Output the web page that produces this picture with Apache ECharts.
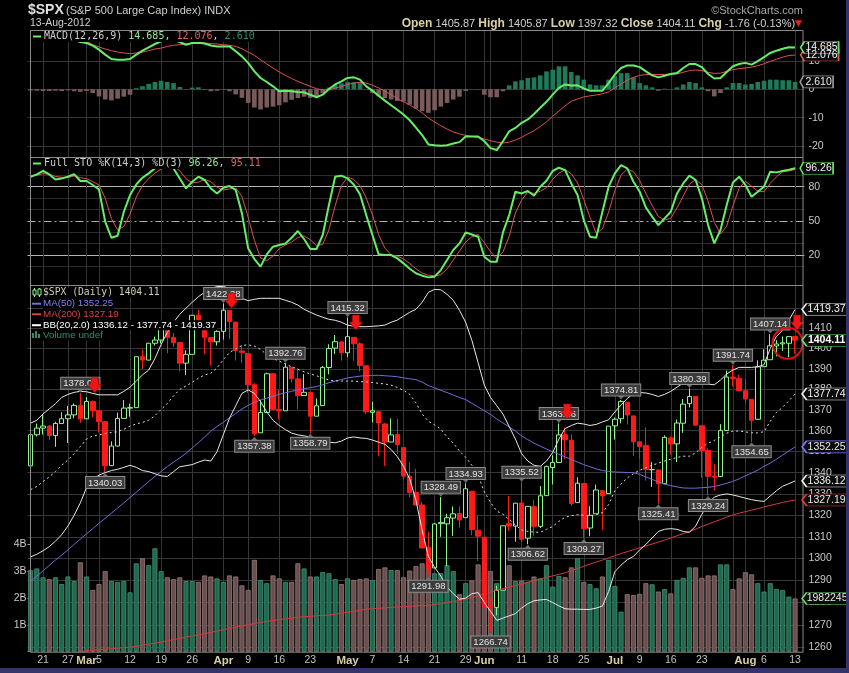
<!DOCTYPE html>
<html>
<head>
<meta charset="utf-8">
<title>$SPX</title>
<script src="https://cdn.jsdelivr.net/npm/echarts@6.0.0/dist/echarts.min.js"></script>
<style>
html,body{margin:0;padding:0;background:#000;overflow:hidden;}
#chart{width:849px;height:673px;}
</style>
</head>
<body>
<div id="chart"></div>
<script>
// ---------------- DATA ----------------
const days = ['Feb 16','Feb 17','Feb 21','Feb 22','Feb 23','Feb 24','Feb 27','Feb 28','Feb 29',
'Mar 1','Mar 2','Mar 5','Mar 6','Mar 7','Mar 8','Mar 9','Mar 12','Mar 13','Mar 14','Mar 15','Mar 16','Mar 19','Mar 20','Mar 21','Mar 22','Mar 23','Mar 26','Mar 27','Mar 28','Mar 29','Mar 30',
'Apr 2','Apr 3','Apr 4','Apr 5','Apr 9','Apr 10','Apr 11','Apr 12','Apr 13','Apr 16','Apr 17','Apr 18','Apr 19','Apr 20','Apr 23','Apr 24','Apr 25','Apr 26','Apr 27','Apr 30',
'May 1','May 2','May 3','May 4','May 7','May 8','May 9','May 10','May 11','May 14','May 15','May 16','May 17','May 18','May 21','May 22','May 23','May 24','May 25','May 29','May 30','May 31',
'Jun 1','Jun 4','Jun 5','Jun 6','Jun 7','Jun 8','Jun 11','Jun 12','Jun 13','Jun 14','Jun 15','Jun 18','Jun 19','Jun 20','Jun 21','Jun 22','Jun 25','Jun 26','Jun 27','Jun 28','Jun 29',
'Jul 2','Jul 3','Jul 5','Jul 6','Jul 9','Jul 10','Jul 11','Jul 12','Jul 13','Jul 16','Jul 17','Jul 18','Jul 19','Jul 20','Jul 23','Jul 24','Jul 25','Jul 26','Jul 27','Jul 30','Jul 31',
'Aug 1','Aug 2','Aug 3','Aug 6','Aug 7','Aug 8','Aug 9','Aug 10','Aug 13'];

const openP = [1343.23,1358.04,1361.23,1362.21,1357.66,1363.46,1365.74,1367.59,1372.18,
1365.68,1374.09,1369.63,1364.33,1343.36,1352.63,1365.91,1370.87,1371.09,1395.95,1394.28,1402.60,1404.17,1409.75,1405.52,1402.89,1392.78,1397.11,1416.55,1412.52,1405.39,1403.31,
1408.47,1418.98,1413.09,1398.79,1397.45,1382.18,1358.98,1368.77,1387.61,1370.27,1369.57,1390.78,1385.08,1376.96,1378.53,1366.97,1372.11,1390.64,1400.19,1403.26,
1397.86,1405.50,1402.32,1391.51,1368.79,1369.16,1363.20,1354.58,1358.11,1351.93,1338.36,1330.78,1324.82,1305.05,1295.73,1316.09,1316.02,1318.72,1320.81,1318.90,1331.25,1313.09,
1309.87,1278.29,1277.82,1285.61,1316.15,1314.99,1325.72,1309.40,1324.02,1314.88,1329.19,1342.42,1344.83,1358.04,1355.43,1325.92,1334.90,1314.09,1320.71,1331.52,1330.12,
1362.33,1365.75,1373.72,1367.09,1354.66,1352.96,1341.40,1341.29,1334.81,1356.50,1353.68,1363.58,1373.01,1376.51,1362.34,1350.52,1338.35,1338.17,1360.05,1385.94,1385.27,
1379.32,1375.13,1365.45,1391.04,1394.46,1401.23,1402.26,1402.58,1405.87];

const closeP = [1358.04,1361.23,1362.21,1357.66,1363.46,1365.74,1367.59,1372.18,1365.68,
1374.09,1369.63,1364.33,1343.36,1352.63,1365.91,1370.87,1371.09,1395.95,1394.28,1402.60,1404.17,1409.75,1405.52,1402.89,1392.78,1397.11,1416.51,1412.52,1405.54,1403.28,1408.47,
1419.04,1413.38,1398.96,1398.08,1382.20,1358.59,1368.71,1387.57,1370.26,1369.57,1390.78,1385.14,1376.92,1378.53,1366.94,1371.97,1390.69,1399.98,1403.36,1397.91,
1405.82,1402.31,1391.57,1369.10,1369.58,1363.72,1354.58,1357.99,1353.39,1338.35,1330.66,1324.80,1304.86,1295.22,1315.99,1316.63,1318.86,1320.68,1317.82,1332.42,1313.32,1310.33,
1278.04,1278.18,1285.50,1315.13,1314.99,1325.66,1308.93,1324.18,1314.88,1329.10,1342.84,1344.78,1357.98,1355.69,1325.51,1335.02,1313.72,1319.99,1331.85,1329.04,1362.16,
1365.51,1374.02,1367.58,1354.68,1352.46,1341.47,1341.45,1334.76,1356.78,1353.64,1363.67,1372.78,1376.51,1362.66,1350.52,1338.31,1337.89,1360.02,1385.97,1385.30,1379.32,
1375.32,1365.00,1390.99,1394.23,1401.35,1402.22,1402.80,1405.87,1404.11];

const highP = [1359.02,1363.40,1367.76,1362.70,1364.24,1368.92,1371.94,1373.09,1378.04,
1376.17,1374.53,1369.63,1364.33,1354.85,1368.72,1374.76,1373.04,1396.13,1399.42,1402.63,1405.88,1414.00,1409.75,1407.75,1402.89,1399.18,1416.58,1419.15,1413.65,1405.39,1410.89,
1422.38,1419.00,1413.09,1401.60,1397.45,1383.01,1374.71,1388.13,1387.61,1379.66,1392.76,1390.78,1390.46,1387.40,1378.53,1375.57,1391.37,1402.09,1406.64,1403.26,
1415.32,1405.50,1403.07,1391.51,1373.91,1369.16,1363.73,1365.88,1365.66,1351.93,1344.94,1341.78,1326.36,1312.24,1316.39,1328.49,1320.71,1324.14,1324.20,1334.93,1331.25,1319.74,
1309.87,1282.55,1287.62,1315.13,1329.05,1325.81,1335.52,1324.31,1327.28,1333.68,1343.32,1348.22,1363.46,1361.57,1358.27,1337.82,1334.90,1324.24,1334.40,1331.52,1362.17,
1366.35,1374.81,1373.85,1367.09,1354.87,1361.54,1345.00,1341.29,1357.70,1357.26,1365.36,1375.26,1380.39,1376.51,1362.34,1351.53,1343.98,1363.13,1389.19,1391.74,1387.16,
1385.03,1375.13,1394.16,1399.63,1407.14,1404.14,1405.95,1405.98,1405.87];

const lowP = [1341.22,1357.24,1358.11,1355.53,1352.28,1363.46,1354.09,1365.97,1363.81,
1365.90,1366.42,1359.13,1340.03,1343.36,1352.63,1365.91,1366.69,1371.09,1389.97,1394.17,1401.47,1402.43,1397.68,1400.64,1388.73,1386.87,1397.11,1411.95,1397.20,1391.56,1401.42,
1404.46,1404.62,1394.09,1392.92,1378.24,1357.38,1358.98,1368.77,1369.85,1365.38,1369.57,1383.29,1370.30,1376.96,1358.79,1366.82,1372.11,1387.28,1397.31,1394.00,
1395.73,1393.92,1388.71,1367.96,1363.94,1347.75,1343.13,1354.58,1348.89,1336.61,1328.41,1324.79,1304.86,1291.98,1295.73,1310.04,1296.53,1310.50,1314.23,1318.90,1310.76,1298.90,
1277.25,1266.74,1274.16,1285.61,1312.68,1307.77,1307.73,1306.62,1310.51,1314.14,1329.19,1334.46,1344.83,1346.45,1324.41,1325.92,1309.27,1310.30,1320.71,1313.29,1330.12,
1355.70,1363.53,1363.02,1348.03,1346.65,1336.27,1333.25,1325.41,1334.81,1348.51,1345.07,1358.96,1371.21,1362.19,1337.56,1329.24,1331.50,1338.17,1360.05,1381.37,1379.17,
1373.35,1354.65,1365.45,1391.04,1394.46,1396.13,1398.80,1395.62,1397.32];

// volume, billions of shares
const volumeB = [3.04,3.1,2.77,2.7,2.77,2.52,2.8,2.63,3.33,2.8,
2.3,2.52,3.0,2.63,2.6,2.63,2.21,3.29,3.48,3.22,
3.85,3.0,2.77,2.7,2.77,2.63,2.63,2.6,2.84,2.8,
2.73,2.6,2.84,2.8,2.47,2.3,3.42,2.67,2.55,2.84,
2.73,2.6,2.6,3.29,3.1,2.8,2.8,2.97,2.92,2.7,
2.52,2.73,2.67,2.71,2.73,2.67,3.08,3.14,3.04,3.04,
2.77,3.02,3.19,3.29,3.17,2.92,2.92,3.22,3.0,2.14,
2.55,2.65,3.25,3.0,3.0,2.55,3.19,3.22,2.63,2.65,
2.6,2.8,2.73,3.22,2.42,2.82,2.77,3.14,3.48,2.6,
2.52,2.36,2.8,3.42,2.45,1.49,2.14,2.11,2.15,2.55,
2.51,2.24,2.33,2.17,2.67,2.75,3.14,3.14,2.75,2.84,
2.84,3.25,3.25,2.33,2.73,2.96,2.88,2.55,2.24,2.55,
2.33,2.3,2.05,1.982245];

const macdLine = [19.5,19.8,19.6,19.2,18.8,18.4,18.0,17.4,16.65,16.3,
15.4,13.96,12.2,10.67,10.4,10.4,10.67,12.2,13.6,14.8,
15.95,16.9,17.5,17.4,16.65,15.7,16.3,16.4,16.1,15.4,
15.1,15.1,15.1,13.4,11.6,9.3,6.3,3.98,2.57,1.05,
-0.7,-0.48,-0.7,-0.95,-1.07,-1.9,-2.8,-1.9,0.1,1.7,
2.8,3.98,4.2,3.4,1.05,-0.48,-2.3,-4.0,-5.6,-7.2,
-8.9,-10.9,-13.5,-16.1,-19.4,-19.7,-19.9,-19.7,-19.1,-18.6,
-16.6,-16.6,-16.6,-18.3,-20.7,-21.4,-18.3,-14.8,-13.6,-11.8,
-10.6,-8.7,-6.5,-4.4,-1.9,0.5,1.7,1.3,1.4,0.3,
-0.5,-0.5,-0.5,2.2,5.2,7.5,8.4,8.4,7.8,6.3,
4.9,4.2,4.8,5.4,5.7,7.5,8.9,8.9,7.8,5.4,
3.8,3.98,6.1,8.1,8.9,9.3,8.7,9.9,11.3,12.8,
13.6,14.3,14.8,14.685];

const macdSignal = [20.0,20.1,20.1,19.9,19.6,19.2,18.8,18.3,17.6,16.9,
15.7,14.9,14.2,13.6,13.1,12.8,12.5,12.8,13.1,13.6,
14.2,14.5,15.1,15.5,15.7,15.95,16.2,16.3,16.3,16.1,
15.95,15.7,15.5,15.1,14.3,13.1,12.0,10.4,8.9,7.5,
6.1,4.9,3.8,2.8,1.9,1.05,0.2,-0.2,-0.2,0.5,
0.9,1.7,2.2,2.5,2.2,1.4,0.5,-0.7,-1.9,-3.3,
-4.4,-5.5,-6.8,-8.3,-10.1,-11.5,-12.8,-14.0,-15.0,-15.7,
-16.2,-16.6,-16.9,-17.5,-18.1,-18.6,-18.9,-18.6,-17.9,-16.9,
-15.7,-14.6,-13.1,-11.5,-9.5,-7.7,-5.8,-4.2,-3.4,-2.7,
-2.3,-2.0,-1.6,-0.9,0.5,1.9,3.2,4.2,4.9,5.2,
5.2,5.2,5.2,5.4,5.4,6.0,6.6,6.8,6.6,6.0,
5.6,5.7,6.3,6.9,7.3,7.5,7.8,8.3,9.0,9.8,
10.6,11.3,11.9,12.076];

const macdHist = [-0.4,-0.5,-0.6,-0.6,-0.5,-0.6,-0.4,-0.7,-0.9,-0.6,
-1.3,-2.5,-3.6,-3.9,-3.3,-2.6,-1.9,0.4,1.1,1.9,
2.6,3.0,2.6,2.2,0.8,-0.1,0.6,0.7,-0.2,-0.7,
-0.5,-0.2,-0.7,-1.8,-3.0,-4.8,-6.4,-7.1,-6.4,-6.1,
-5.6,-4.6,-3.7,-3.1,-2.6,-3.0,-2.6,-1.4,0.6,1.6,
2.1,2.6,2.5,2.2,0.1,-1.3,-2.5,-3.1,-3.6,-4.1,
-4.3,-5.4,-6.8,-7.7,-8.3,-7.4,-6.1,-4.8,-3.6,-2.6,
-0.6,0.0,-0.1,-1.9,-2.8,-2.8,-0.7,1.4,2.8,3.2,
4.0,4.2,4.9,6.3,6.9,8.1,8.1,6.1,4.9,3.4,
1.7,1.4,1.4,3.4,4.6,5.7,5.7,4.2,2.2,1.4,
0.7,-0.5,0.2,0.1,0.7,1.7,2.6,2.2,0.7,-0.7,
-2.5,-1.3,0.7,2.2,2.2,1.7,1.9,2.6,3.0,3.4,
3.4,3.2,3.2,2.61];

const stoK = [88.8,90.8,94,90.8,86.4,87.3,88.8,91.1,85,85,
81.5,77.7,49.3,35.2,37,58,72.7,82,87.9,91.7,
96.1,99,99,96,87.3,78.5,84.4,88.8,85.9,78.5,
74.1,79.1,80.6,77.1,56.6,25.9,16.5,9.8,20.6,27.3,
28.8,30.2,35.2,41.1,34.1,25.3,25.3,37.6,63.9,88.8,
89.7,87.3,82,73.3,55.1,37.6,20.6,20,20,17.1,
12.7,8,4,1.9,0.4,1,6.8,15.6,24.4,30.2,
39.9,38.1,36.1,18.5,14.1,14.1,39.9,55.1,75.6,74.1,
76.2,72.1,80,85.3,93.8,96.7,94.6,82.9,72.7,50.7,
36.1,35.2,58,80,91.7,99,96.1,84.4,75.6,61.6,
53.7,46.3,52.2,58,74.1,82.9,89.7,85.9,69.8,46.3,
30.2,42,63.9,83.8,88.8,81.5,71.2,75.6,80,93.2,
92.6,93.8,94.9,96.26];

const stoD = [89,90,91.5,91,89,88.3,88,89.5,88,87,
84.5,81.5,70,52,42,45,56,71,81,87.2,
91.9,95.5,97,98,94,87,83.4,84,86.4,84.4,
79.5,77.2,78,78.9,71.4,53.2,33,17.4,15,19.2,
25.6,28.8,31.4,35.5,36.8,33.5,28.2,29.4,42.3,63.4,
80.8,88.6,86.3,80.9,70.1,55.3,37.8,26.1,20.2,19,
16.6,12.5,8,4.1,2.3,1.8,2.7,7.8,15.6,23.4,
31.5,36.1,38,30.9,22.9,17,22.7,36.4,56.9,68.3,
75.3,74.1,76.1,79.1,86.4,91.9,95,91.4,83.4,68.8,
53.2,39,43.1,57.7,76.6,90.2,95.6,93.2,85.4,73.9,
63.6,53.9,50.7,52.2,61.4,71.7,82.2,86.2,81.8,67.3,
48.8,38.5,45.4,63.2,78.8,84.7,80.5,76.1,75.6,82.9,
88.6,93.2,93.8,95.11];

const bbUpper = [1363.6,1365,1368,1370.5,1373,1376,1377.5,1378.5,1379,1378.8,
1378,1377.3,1377.3,1377.3,1377.3,1379,1381,1384,1387,1389.4,
1395,1402,1408,1413,1417,1420,1423,1425.8,1428,1430,
1430.9,1431,1430,1427.5,1425,1423.8,1424.5,1425,1425,1425,
1425,1424,1423,1421.6,1419.5,1418,1416.6,1415.5,1414.5,1414,
1413,1411.6,1411,1410.8,1410.8,1411,1411.2,1411.6,1413,1414.1,
1416,1418,1419.5,1423,1428,1429.5,1429.3,1427,1424,1419,
1413,1404,1393,1382,1376,1372,1368,1362,1356,1349,
1345.5,1343.5,1343,1345.5,1349.5,1356,1361,1362.5,1363.6,1363.2,
1362.5,1363,1364.2,1365.2,1369,1372.4,1375.5,1378,1378.4,1378.2,
1377.5,1376.5,1377.5,1379,1381,1383,1383.5,1383.8,1383.5,1382.5,
1382.2,1384.5,1387.5,1389.4,1390.7,1390.7,1390.7,1391,1392,1400,
1406,1409,1414,1419.37];

const bbMid = [1332,1333.5,1335.8,1338,1340.5,1343.5,1346,1349,1352.4,1355.9,
1357.5,1358,1358.6,1359.1,1359.5,1360.7,1362.2,1363.2,1364,1365,
1367.2,1370.2,1373.1,1376.8,1379.9,1381.6,1383.4,1385.4,1387,1387.8,
1390.5,1394.5,1398,1399.8,1401.5,1401.8,1401.2,1399.5,1397,1395,
1393.8,1392.3,1391,1389.8,1388.5,1387.5,1386.6,1385.5,1384.5,1384.1,
1384,1384,1384,1383.7,1383.6,1383.3,1382.9,1382.6,1382,1380.9,
1379.5,1377.5,1373.4,1368,1364.5,1362.8,1360.7,1357,1354,1350.3,
1347.3,1343.5,1338.7,1331,1326,1322,1320.5,1318,1315.5,1313.2,
1312.5,1312.2,1312.1,1313.5,1314.8,1317.2,1319.1,1319.8,1320.3,1320,
1319.7,1320.3,1321.3,1325,1331.5,1334.7,1337.5,1339.5,1341.2,1342.3,
1343.5,1344.5,1345.5,1346.4,1347.2,1347.8,1347.8,1349.4,1352,1354,
1355.3,1357,1358.8,1359.8,1359.8,1359.4,1359,1358.9,1359.5,1364.5,
1368.7,1371.3,1374.4,1377.74];

const bbLower = [1300.8,1302,1303.6,1305.5,1308,1311,1315,1320,1325.8,1333,
1337,1338.8,1340,1341,1341.6,1342.5,1343.5,1342.5,1341,1340.5,
1339.5,1338.5,1338.2,1340.5,1342.8,1343.3,1343.8,1345,1346,1345.5,
1350,1358,1366,1372,1378,1379.7,1378,1374,1369,1365,
1362.5,1360.5,1358.8,1358,1357.5,1357,1356.5,1355.5,1354.5,1354.2,
1355,1356.5,1357,1356.5,1356.3,1355.5,1354.5,1353.5,1351,1347.6,
1343,1337,1327,1313,1301,1296,1292,1287,1284,1281.5,
1282,1284,1284.5,1280,1276,1272,1273,1274,1275,1277.5,
1279.5,1280.8,1281.2,1281.4,1280,1278.5,1277.2,1277,1277,1276.9,
1276.9,1277.5,1278.4,1285,1294,1297,1299.5,1301,1304,1306.5,
1309.5,1312.5,1313.5,1313.8,1313.5,1312.5,1312.1,1315,1320.5,1325.5,
1328.5,1329.5,1330,1329.5,1328.8,1328,1327.3,1326.8,1326.5,1329,
1331.5,1333.6,1334.8,1336.12];

const ma50 = [1289.7,1292.0,1294.4,1296.9,1299.3,1301.6,1304.0,1306.5,1309.0,1311.4,
1313.8,1316.3,1318.6,1321.0,1323.4,1325.8,1328.3,1330.8,1333.3,1335.8,
1338.2,1340.6,1342.9,1345.0,1347.0,1349.2,1351.7,1354.3,1357.0,1359.8,
1362.0,1364.0,1366.2,1368.3,1370.4,1372.2,1373.6,1374.8,1375.7,1376.6,
1377.6,1378.3,1379.0,1379.8,1380.3,1380.8,1381.3,1382.2,1383.2,1384.0,
1384.7,1385.5,1386.0,1386.4,1386.7,1386.8,1386.8,1386.6,1386.4,1386.1,
1385.6,1385.1,1384.7,1383.5,1381.8,1380.7,1379.5,1378.4,1377.2,1376.0,
1375.0,1373.2,1371.4,1369.6,1367.8,1365.6,1363.7,1361.8,1359.8,1357.5,
1355.7,1354.0,1352.6,1351.2,1349.9,1348.7,1347.5,1346.3,1345.0,1343.8,
1342.8,1341.8,1341.0,1340.6,1340.3,1340.2,1340.1,1340.0,1339.2,1338.0,
1336.8,1335.7,1334.6,1333.9,1333.3,1332.8,1332.7,1332.7,1332.9,1333.1,
1333.5,1334.2,1335.0,1335.9,1337.1,1338.5,1339.8,1341.2,1343.0,1344.5,
1346.4,1348.3,1350.3,1352.25];

const ma200 = [1254.5,1254.9,1255.3,1255.7,1256.1,1256.6,1257,1257.4,1257.8,1258.5,
1258.7,1258.9,1259.1,1259.3,1259.6,1259.8,1260,1260.4,1260.9,1261.3,
1261.8,1262.3,1262.8,1263.4,1263.9,1264.5,1265,1265.5,1266,1266.6,
1267.2,1267.8,1268.3,1268.9,1269.5,1270,1270.6,1271.1,1271.5,1271.9,
1272.3,1272.6,1273,1273.4,1273.6,1273.8,1274,1274.2,1274.4,1274.7,
1275.2,1275.6,1276,1276.5,1277,1277.2,1277.4,1277.6,1277.8,1278,
1278.1,1278.3,1278.5,1278.6,1278.7,1279.1,1279.5,1280,1280.5,1281,
1281.5,1282.3,1283.1,1283.9,1284.7,1285.6,1286.3,1287,1287.7,1288.4,
1289.2,1289.9,1290.6,1291.4,1292.1,1292.8,1293.5,1294.5,1295.5,1296.5,
1297.5,1298.4,1299.3,1300.3,1301.3,1302.3,1303.2,1304.1,1305,1305.8,
1306.7,1307.6,1308.5,1309.5,1310.5,1311.5,1312.5,1313.6,1314.8,1315.9,
1317,1318,1319.1,1320.2,1321,1321.7,1322.4,1323.1,1323.9,1324.6,
1325.3,1326,1326.6,1327.19];

// x-axis tick labels: [trading-day index, text]
const xTickLabels = [[2,'21'],[6,'27'],[9,'Mar'],[11,'5'],[16,'12'],[21,'19'],[26,'26'],[31,'Apr'],[35,'9'],[40,'16'],[45,'23'],
[51,'May'],[55,'7'],[60,'14'],[65,'21'],[70,'29'],[73,'Jun'],[79,'11'],[84,'18'],[89,'25'],[94,'Jul'],[98,'9'],[103,'16'],[108,'23'],
[115,'Aug'],[118,'6'],[123,'13']];
const monthNames = ['Mar','Apr','May','Jun','Jul','Aug'];
const xGridIdx = [2,6,9,11,16,21,26,31,35,40,45,51,55,60,65,70,73,74,79,84,89,94,98,103,108,113,115,118,123];
const priceTicks = [1260,1270,1280,1290,1300,1310,1320,1330,1340,1350,1360,1370,1380,1390,1400,1410,1420];
const macdTicks = [10,0,-10,-20];
const stoTicks = [80,50,20];
const stoFaintTicks = [10,30,40,60,70,90];
const volTickStep = 1; // B

// annotations: [index, price]
const highNotes = [[8,1378.04],[31,1422.38],[41,1392.76],[51,1415.32],[66,1328.49],[70,1334.93],[79,1335.52],[85,1363.46],[95,1374.81],[106,1380.39],[113,1391.74],[119,1407.14]];
const lowNotes = [[12,1340.03],[36,1357.38],[45,1358.79],[64,1291.98],[74,1266.74],[80,1306.62],[89,1309.27],[101,1325.41],[109,1329.24],[116,1354.65]];
const arrowMarks = [[10,1378.3],[32,1420.0],[52,1409.1],[86,1365.6],[123,1409.1]];
const circleMark = [122,1402.6];

// ---------------- CHART ----------------
const LAST = days.length - 1;
const categories = days.concat(['']);
const ohlc = days.map((d, i) => [openP[i], closeP[i], lowP[i], highP[i]]);
const SANS = 'Liberation Sans', MONO = 'DejaVu Sans Mono';
const GL = 27.5, GW = 776.9;
const tickMap = new Map(xTickLabels);
const ARROW = 'path://M3,0L10,0L10,7L13,7L6.5,15L0,7L3,7Z';
const TAG = 'path://M0,6L5,0L50,0L50,12L5,12Z';

function tag(v, text, border, color, w, off, bold) {
  return {
    coord: [LAST, v], value: v,
    symbol: TAG, symbolSize: [w, 12], symbolKeepAspect: false, symbolOffset: [off, 0],
    itemStyle: {color: '#0b0b0b', borderColor: border, borderWidth: 1},
    label: {show: true, position: 'inside', offset: [2, 0], formatter: text, color: color,
      fontSize: 10.5, fontFamily: SANS, fontWeight: bold ? 'bold' : 'normal'}
  };
}
function backLines(g, items) {
  return {
    type: 'line', xAxisIndex: g, yAxisIndex: g, data: [], silent: true, z: 0,
    markLine: {
      z: 0, silent: true, animation: false, symbol: ['none', 'none'],
      lineStyle: {color: '#363636', width: 1, type: 'solid'},
      label: {show: true, position: 'end', distance: 4, color: '#c8c8c8', fontSize: 10.5, fontFamily: SANS,
        formatter: p => String(p.value)},
      emphasis: {disabled: true},
      data: items.concat(xGridIdx.map(i => ({xAxis: i, label: {show: false}})))
    }
  };
}
function front(g, data, z) {
  return {type: 'line', xAxisIndex: g, yAxisIndex: g, data: [], silent: true, z: z,
    markPoint: {z: z, silent: true, animation: false, data: data}};
}
const up = i => closeP[i] >= openP[i];

const series = [
  // MACD panel
  backLines(0, macdTicks.map(v => ({yAxis: v}))),
  {type: 'bar', xAxisIndex: 0, yAxisIndex: 0, data: macdHist, barWidth: 4.6, z: 2, silent: true,
    itemStyle: {color: p => p.value >= 0 ? '#1e7a5b' : '#7a5b5b'}},
  {type: 'line', xAxisIndex: 0, yAxisIndex: 0, data: macdSignal, symbol: 'none', z: 3, silent: true,
    lineStyle: {color: '#d95252', width: 1}},
  {type: 'line', xAxisIndex: 0, yAxisIndex: 0, data: macdLine, symbol: 'none', z: 4, silent: true,
    lineStyle: {color: '#66ef66', width: 2}},
  front(0, [
    tag(macdHist[LAST], macdHist[LAST].toFixed(3), '#9a9a9a', '#e8e8e8', 33, 21.5),
    tag(macdSignal[LAST], macdSignal[LAST].toFixed(3), '#e05a5a', '#f0f0f0', 38, 24.5),
    tag(macdLine[LAST], macdLine[LAST].toFixed(3), '#66ef66', '#f4f4f4', 38, 24.5)
  ], 10),
  // STO panel
  backLines(1, stoFaintTicks.map(v => ({yAxis: v, label: {show: false}, lineStyle: {color: '#2c2c2c'}}))
    .concat([
      {yAxis: 80, lineStyle: {color: '#b5b5b5', width: 1.2}},
      {yAxis: 50, lineStyle: {color: '#a8a8a8', width: 1, type: [8, 3, 2, 3]}},
      {yAxis: 20, lineStyle: {color: '#b5b5b5', width: 1.2}}
    ])),
  {type: 'line', xAxisIndex: 1, yAxisIndex: 1, data: stoD, symbol: 'none', z: 3, silent: true,
    lineStyle: {color: '#d95252', width: 1}},
  {type: 'line', xAxisIndex: 1, yAxisIndex: 1, data: stoK, symbol: 'none', z: 4, silent: true,
    lineStyle: {color: '#66ef66', width: 2}},
  front(1, [tag(stoK[LAST], stoK[LAST].toFixed(2), '#66ef66', '#f0f0f0', 33, 21.5)], 10),
  // Price panel
  backLines(2, priceTicks.map(v => ({yAxis: v}))),
  {type: 'bar', xAxisIndex: 3, yAxisIndex: 3, barWidth: 5, z: 1, silent: true,
    data: volumeB.map((v, i) => ({value: v, itemStyle: up(i)
      ? {color: '#1b6b4f', borderColor: '#4b8f78', borderWidth: 0.8}
      : {color: '#6b4f4f', borderColor: '#967b7b', borderWidth: 0.8}}))},
  {type: 'line', xAxisIndex: 2, yAxisIndex: 2, data: ma200, symbol: 'none', z: 4, silent: true,
    lineStyle: {color: '#d63a3a', width: 1}},
  {type: 'line', xAxisIndex: 2, yAxisIndex: 2, data: ma50, symbol: 'none', z: 4, silent: true,
    lineStyle: {color: '#6e6ed8', width: 1}},
  {type: 'line', xAxisIndex: 2, yAxisIndex: 2, data: bbLower, symbol: 'none', z: 4, silent: true,
    lineStyle: {color: '#e8e8e8', width: 1}},
  {type: 'line', xAxisIndex: 2, yAxisIndex: 2, data: bbMid, symbol: 'none', z: 4, silent: true,
    lineStyle: {color: '#e0e0e0', width: 1, type: [2, 3]}},
  {type: 'line', xAxisIndex: 2, yAxisIndex: 2, data: bbUpper, symbol: 'none', z: 4, silent: true,
    lineStyle: {color: '#e8e8e8', width: 1}},
  {type: 'candlestick', xAxisIndex: 2, yAxisIndex: 2, data: ohlc, barWidth: 5, z: 3, silent: true,
    itemStyle: {color: '#000000', color0: '#ff1a1a', borderColor: '#8ef58e', borderColor0: '#ff1a1a', borderWidth: 1}},
  // high / low notes
  {type: 'line', xAxisIndex: 2, yAxisIndex: 2, data: [], silent: true, z: 6,
    markPoint: {z: 6, silent: true, animation: false,
      itemStyle: {color: '#6a6a6a'},
      label: {show: true, distance: 0, formatter: p => Number(p.value).toFixed(2), color: '#e4e4e4',
        fontSize: 9.5, fontFamily: SANS, backgroundColor: '#3c3c3c', borderColor: '#8c8c8c', borderWidth: 1,
        padding: [1, 2, 0, 2], lineHeight: 10},
      data: highNotes.map(([i, v]) => ({coord: [i, v], value: v, symbol: 'triangle', symbolSize: [7, 4],
          symbolRotate: 180, symbolOffset: [0, -2.5], label: {position: 'top'}}))
        .concat(lowNotes.map(([i, v]) => ({coord: [i, v], value: v, symbol: 'triangle', symbolSize: [7, 4],
          symbolOffset: [0, 2.5], label: {position: 'bottom'}})))
    }},
  // red arrows and circle
  {type: 'line', xAxisIndex: 2, yAxisIndex: 2, data: [], silent: true, z: 7,
    markPoint: {z: 7, silent: true, animation: false, label: {show: false},
      data: arrowMarks.map(([i, v]) => ({coord: [i, v], symbol: ARROW, symbolSize: [13, 15], symbolKeepAspect: false,
          symbolOffset: [2, -7.5], itemStyle: {color: '#f01616', borderColor: '#b00000', borderWidth: 0.6}}))
        .concat([{coord: circleMark, symbol: 'circle', symbolSize: [30, 31], symbolOffset: [-1.3, 0],
          itemStyle: {color: 'rgba(0,0,0,0)', borderColor: '#e01010', borderWidth: 2}}])
    }},
  front(2, [
    tag(bbUpper[LAST], bbUpper[LAST].toFixed(2), '#f0f0f0', '#f4f4f4', 45, 29.5),
    tag(bbMid[LAST], bbMid[LAST].toFixed(2), '#f0f0f0', '#f4f4f4', 45, 29.5),
    tag(ma50[LAST], ma50[LAST].toFixed(2), '#7b7bff', '#e8e8e8', 45, 29.5),
    tag(bbLower[LAST], bbLower[LAST].toFixed(2), '#f0f0f0', '#f4f4f4', 45, 29.5),
    tag(ma200[LAST], ma200[LAST].toFixed(2), '#e04040', '#e8e8e8', 45, 29.5),
    tag(closeP[LAST], closeP[LAST].toFixed(2), '#6fe06f', '#ffffff', 45, 29.5, true)
  ], 10),
  front(3, [tag(volumeB[LAST], String(Math.round(volumeB[LAST] * 1e6)), '#6fe06f', '#e8e8e8', 46, 30)], 10)
];

// ---------------- GRAPHIC TEXT / FRAME ----------------
const G = [];
G.push({type: 'rect', shape: {x: 846, y: 0, width: 3, height: 673}, style: {fill: '#34346a'}, z: 30, silent: true});
G.push({type: 'rect', shape: {x: 0, y: 668, width: 849, height: 5}, style: {fill: '#34346a'}, z: 30, silent: true});
[[30, 157], [157, 285], [285, 651.7]].forEach(([t, b]) => G.push({type: 'rect',
  shape: {x: 30.5, y: t + 0.5, width: 772.5, height: b - t}, style: {fill: 'rgba(0,0,0,0)', stroke: '#8a8a8a', lineWidth: 1},
  z: 8, silent: true}));

G.push({type: 'text', x: 28, y: 10.5, z: 20, style: {text: '$SPX', fill: '#e0e0e0', font: 'bold 14px "Liberation Sans"', verticalAlign: 'middle'}});
G.push({type: 'text', x: 66, y: 11, z: 20, style: {text: '(S&P 500 Large Cap Index) INDX', fill: '#d0d0d0', font: '11px "Liberation Sans"', verticalAlign: 'middle'}});
G.push({type: 'text', x: 803, y: 11, z: 20, style: {text: '\u00a9StockCharts.com', fill: '#a8a8a8', font: '11px "Liberation Sans"', align: 'right', verticalAlign: 'middle'}});
G.push({type: 'text', x: 30, y: 23.5, z: 20, style: {text: '13-Aug-2012', fill: '#d0d0d0', font: '10.5px "Liberation Sans"', verticalAlign: 'middle'}});
G.push({type: 'text', x: 802, y: 23.5, z: 20, style: {
  text: '{b|Open} {v|' + openP[LAST].toFixed(2) + '} {b|High} {v|' + highP[LAST].toFixed(2) + '} {b|Low} {v|' + lowP[LAST].toFixed(2) +
    '} {b|Close} {v|' + closeP[LAST].toFixed(2) + '} {b|Chg} {v|' + (closeP[LAST] - closeP[LAST - 1]).toFixed(2) + ' (' +
    ((closeP[LAST] - closeP[LAST - 1]) / closeP[LAST - 1] * 100).toFixed(2) + '%)}{t|\u25bc}',
  fill: '#d0d0d0', font: '11px "Liberation Sans"', align: 'right', verticalAlign: 'middle',
  rich: {b: {fill: '#d9d1a6', font: 'bold 12px "Liberation Sans"'}, v: {fill: '#d0d0d0', font: '11px "Liberation Sans"'},
    t: {fill: '#e82020', font: '9px "DejaVu Sans"'}}}});

// MACD legend
G.push({type: 'rect', shape: {x: 31, y: 31, width: 231, height: 11}, style: {fill: '#000'}, z: 20, silent: true});
G.push({type: 'line', shape: {x1: 33, y1: 36.5, x2: 41, y2: 36.5}, style: {stroke: '#66ef66', lineWidth: 2}, z: 21});
G.push({type: 'text', x: 44, y: 36.5, z: 21, style: {
  text: '{g|MACD(12,26,9) }{l|' + macdLine[LAST].toFixed(3) + '}{g|, }{r|' + macdSignal[LAST].toFixed(3) + '}{g|, }{h|' + macdHist[LAST].toFixed(3) + '}',
  font: '10px "DejaVu Sans Mono"', verticalAlign: 'middle',
  rich: {g: {fill: '#cfcfcf', font: '10px "DejaVu Sans Mono"'}, l: {fill: '#8cf08c', font: '10px "DejaVu Sans Mono"'},
    r: {fill: '#e06060', font: '10px "DejaVu Sans Mono"'}, h: {fill: '#2f8c6c', font: '10px "DejaVu Sans Mono"'}}}});
// STO legend
G.push({type: 'rect', shape: {x: 31, y: 158, width: 234, height: 11}, style: {fill: '#000'}, z: 20, silent: true});
G.push({type: 'line', shape: {x1: 33, y1: 163.5, x2: 41, y2: 163.5}, style: {stroke: '#66ef66', lineWidth: 2}, z: 21});
G.push({type: 'text', x: 44, y: 163.5, z: 21, style: {
  text: '{g|Full STO %K(14,3) %D(3) }{l|' + stoK[LAST].toFixed(2) + '}{g|, }{r|' + stoD[LAST].toFixed(2) + '}',
  font: '10px "DejaVu Sans Mono"', verticalAlign: 'middle',
  rich: {g: {fill: '#cfcfcf', font: '10px "DejaVu Sans Mono"'}, l: {fill: '#8cf08c', font: '10px "DejaVu Sans Mono"'},
    r: {fill: '#e06060', font: '10px "DejaVu Sans Mono"'}}}});
// Price legend
const legendRows = [
  {y: 292.7, text: '$SPX (Daily) ' + closeP[LAST].toFixed(2), color: '#cfcfb8', font: '9.7px "DejaVu Sans Mono"'},
  {y: 303.7, text: 'MA(50) ' + ma50[LAST].toFixed(2), color: '#8080f4', font: '9.8px "Liberation Sans"', icon: '#7070e0'},
  {y: 314.3, text: 'MA(200) ' + ma200[LAST].toFixed(2), color: '#d84444', font: '9.8px "Liberation Sans"', icon: '#d84444'},
  {y: 325.2, text: 'BB(20,2.0) ' + bbLower[LAST].toFixed(2) + ' - ' + bbMid[LAST].toFixed(2) + ' - ' + bbUpper[LAST].toFixed(2), color: '#ffffff', font: '9.8px "Liberation Sans"', icon: '#ffffff'},
  {y: 335.4, text: 'Volume undef', color: '#2a9068', font: '9.8px "Liberation Sans"'}
];
legendRows.forEach(r => {
  G.push({type: 'text', x: 43, y: r.y, z: 21, style: {text: r.text, fill: r.color, font: r.font, verticalAlign: 'middle',
    backgroundColor: '#000', padding: [0, 1, 0, 0]}});
  if (r.icon) G.push({type: 'line', shape: {x1: 32, y1: r.y, x2: 41, y2: r.y}, style: {stroke: r.icon, lineWidth: 2}, z: 21});
});
// candle icon
G.push({type: 'line', shape: {x1: 34.5, y1: 288, x2: 34.5, y2: 297}, style: {stroke: '#8ef58e', lineWidth: 1}, z: 21});
G.push({type: 'rect', shape: {x: 33, y: 290, width: 3, height: 5}, style: {fill: '#000', stroke: '#8ef58e', lineWidth: 1}, z: 22});
G.push({type: 'line', shape: {x1: 39.5, y1: 288, x2: 39.5, y2: 297}, style: {stroke: '#8ef58e', lineWidth: 1}, z: 21});
G.push({type: 'rect', shape: {x: 38, y: 289, width: 3, height: 6}, style: {fill: '#000', stroke: '#8ef58e', lineWidth: 1}, z: 22});
// volume icon
[[32, 333, 5], [35, 331, 7], [38, 334, 4]].forEach(([x, y, h]) =>
  G.push({type: 'rect', shape: {x: x, y: y, width: 2, height: h}, style: {fill: '#2a9068'}, z: 21}));

// sanity check on array lengths
[['open', openP], ['close', closeP], ['high', highP], ['low', lowP], ['vol', volumeB], ['macd', macdLine], ['sig', macdSignal],
 ['hist', macdHist], ['k', stoK], ['d', stoD], ['bbu', bbUpper], ['bbm', bbMid], ['bbl', bbLower], ['ma50', ma50], ['ma200', ma200]]
  .forEach(([n, a], k) => { if (a.length !== days.length) G.push({type: 'text', x: 300, y: 400 + k * 12, z: 99,
    style: {text: 'LEN ' + n + ' ' + a.length, fill: '#ff0', font: '12px sans-serif'}}); });

const xAxes = [0, 1, 2, 3].map(g => ({
  type: 'category', gridIndex: g, data: categories, boundaryGap: true,
  axisLine: {show: false}, axisTick: {show: false}, splitLine: {show: false},
  axisLabel: g === 2 ? {
    show: true, margin: 3, hideOverlap: false,
    interval: idx => tickMap.has(idx),
    formatter: (val, idx) => { const t = tickMap.get(idx); if (t === undefined) return ''; return monthNames.indexOf(t) >= 0 ? '{m|' + t + '}' : '{d|' + t + '}'; },
    rich: {m: {color: '#d6cea4', fontWeight: 'bold', fontSize: 11.5, fontFamily: SANS},
      d: {color: '#c2c2c2', fontSize: 10.5, fontFamily: SANS}}
  } : {show: false}
}));

const option = {
  backgroundColor: '#000000',
  animation: false,
  grid: [
    {left: GL, width: GW, top: 30, height: 127, containLabel: false, outerBoundsMode: 'none', show: false},
    {left: GL, width: GW, top: 157, height: 128, containLabel: false, outerBoundsMode: 'none', show: false},
    {left: GL, width: GW, top: 285, height: 366.7, containLabel: false, outerBoundsMode: 'none', show: false},
    {left: GL, width: GW, top: 544.3, height: 107.4, containLabel: false, outerBoundsMode: 'none', show: false}
  ],
  xAxis: xAxes,
  yAxis: [
    {type: 'value', gridIndex: 0, min: -23.84, max: 20.88, show: false},
    {type: 'value', gridIndex: 1, min: -6.3, max: 106.1, show: false},
    {type: 'log', gridIndex: 2, logBase: 10, min: 1258, max: 1431.7, show: false},
    {type: 'value', gridIndex: 3, min: 0, max: 4, interval: volTickStep, position: 'left',
      axisLine: {show: false}, splitLine: {show: false},
      axisTick: {show: true, inside: true, length: 3, lineStyle: {color: '#9a9a9a'}},
      axisLabel: {color: '#c8c8c8', fontSize: 10.5, fontFamily: SANS, margin: 1, formatter: v => v === 0 ? '' : v + 'B'}}
  ],
  series: series,
  graphic: {elements: G}
};

const chart = echarts.init(document.getElementById('chart'), null, {renderer: 'canvas', width: 849, height: 673});
chart.setOption(option);
</script>
</body>
</html>
